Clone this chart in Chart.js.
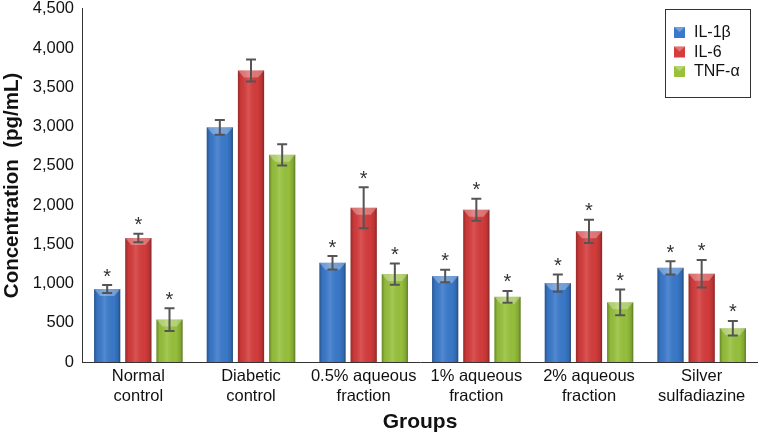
<!DOCTYPE html>
<html>
<head>
<meta charset="utf-8">
<script src="https://cdn.jsdelivr.net/npm/chart.js@4.4.1/dist/chart.umd.min.js"></script>
<style>
  html, body { margin: 0; padding: 0; background: #fff; }
  #wrap { width: 758px; height: 435px; }
</style>
</head>
<body>
<div id="wrap"><canvas id="chart" width="758" height="435"></canvas></div>
<script>
// groups on the x axis
var groups = [
  ['Normal', 'control'],
  ['Diabetic', 'control'],
  ['0.5% aqueous', 'fraction'],
  ['1% aqueous', 'fraction'],
  ['2% aqueous', 'fraction'],
  ['Silver', 'sulfadiazine']
];

// means and error bars (pg/mL)
var il1b = [930, 2990, 1265, 1095, 1005, 1200];
var il1bErr = [50, 95, 85, 80, 110, 85];
var il6 = [1580, 3715, 1965, 1940, 1665, 1125];
var il6Err = [55, 140, 260, 140, 148, 175];
var tnfa = [540, 2640, 1120, 830, 760, 430];
var tnfaErr = [145, 135, 135, 75, 165, 93];

// asterisk shown above the bar (not for diabetic control)
var starred = [true, false, true, true, true, true];

var yMin = 0, yMax = 4500, yStep = 500;

var font = "'Liberation Sans', Arial, sans-serif";

// shading, error bars, asterisks and the boxed legend
var decorPlugin = {
  id: 'decor',
  afterDatasetsDraw: function(chart) {
    var ctx = chart.ctx;
    var yScale = chart.scales.y;
    ctx.save();
    chart.data.datasets.forEach(function(ds, di) {
      var meta = chart.getDatasetMeta(di);
      meta.data.forEach(function(bar, i) {
        var left = bar.x - bar.width / 2;
        var right = bar.x + bar.width / 2;
        var top = bar.y, base = bar.base;
        // horizontal shading
        var g = ctx.createLinearGradient(left, 0, right, 0);
        g.addColorStop(0, 'rgba(0,0,0,0.30)');
        g.addColorStop(0.12, 'rgba(0,0,0,0.05)');
        g.addColorStop(0.4, 'rgba(255,255,255,0.12)');
        g.addColorStop(0.75, 'rgba(0,0,0,0.02)');
        g.addColorStop(0.92, 'rgba(0,0,0,0.15)');
        g.addColorStop(1, 'rgba(0,0,0,0.40)');
        ctx.fillStyle = g;
        ctx.fillRect(left, top, bar.width, base - top);
        // top bevel
        ctx.fillStyle = 'rgba(255,255,255,0.30)';
        ctx.beginPath();
        ctx.moveTo(left, top);
        ctx.lineTo(right, top);
        ctx.lineTo(right - 6, top + 7);
        ctx.lineTo(left + 6, top + 7);
        ctx.closePath();
        ctx.fill();

        // error bar
        var v = ds.data[i], e = ds.errors[i];
        var yHi = yScale.getPixelForValue(v + e);
        var yLo = yScale.getPixelForValue(v - e);
        ctx.strokeStyle = '#555';
        ctx.lineWidth = 2;
        ctx.beginPath();
        ctx.moveTo(bar.x, yHi); ctx.lineTo(bar.x, yLo);
        ctx.moveTo(bar.x - 5, yHi); ctx.lineTo(bar.x + 5, yHi);
        ctx.moveTo(bar.x - 5, yLo); ctx.lineTo(bar.x + 5, yLo);
        ctx.stroke();

        if (starred[i]) {
          ctx.fillStyle = '#333';
          ctx.font = '20px ' + font;
          ctx.textAlign = 'center';
          ctx.textBaseline = 'middle';
          ctx.fillText('*', bar.x, yHi - 8);
        }
      });
    });

    // legend box
    var bx = 665, by = 9, bw = 85, bh = 88;
    ctx.fillStyle = '#fff';
    ctx.fillRect(bx, by, bw, bh);
    ctx.strokeStyle = '#333';
    ctx.lineWidth = 1;
    ctx.strokeRect(bx + 0.5, by + 0.5, bw, bh);
    chart.data.datasets.forEach(function(ds, di) {
      var cy = 32 + di * 19.5;
      ctx.fillStyle = ds.backgroundColor;
      ctx.fillRect(674, cy - 5, 11, 11);
      ctx.fillStyle = 'rgba(255,255,255,0.3)';
      ctx.beginPath();
      ctx.moveTo(674, cy - 5); ctx.lineTo(685, cy - 5); ctx.lineTo(679.5, cy);
      ctx.closePath(); ctx.fill();
      ctx.fillStyle = '#111';
      ctx.font = '16px ' + font;
      ctx.textAlign = 'left';
      ctx.textBaseline = 'middle';
      ctx.fillText(ds.label, 694, cy + 1);
    });
    ctx.restore();
  }
};

var ctx = document.getElementById('chart').getContext('2d');
var myChart = new Chart(ctx, {
  type: 'bar',
  data: {
    labels: groups,
    datasets: [
      { label: 'IL-1\u03B2', data: il1b, errors: il1bErr, backgroundColor: '#3a7acc', borderWidth: 0 },
      { label: 'IL-6', data: il6, errors: il6Err, backgroundColor: '#d63c3c', borderWidth: 0 },
      { label: 'TNF-\u03B1', data: tnfa, errors: tnfaErr, backgroundColor: '#98c23c', borderWidth: 0 }
    ]
  },
  options: {
    responsive: false,
    animation: false,
    devicePixelRatio: 1,
    layout: { padding: { top: 0, right: 0, bottom: 0, left: 0 } },
    categoryPercentage: 0.83,
    barPercentage: 0.84,
    plugins: {
      legend: { display: false },
      tooltip: { enabled: false }
    },
    scales: {
      x: {
        grid: { display: false, drawTicks: false },
        border: { display: true, color: '#333', width: 1 },
        ticks: {
          color: '#111',
          font: { family: font, size: 16.5, lineHeight: 1.2 },
          padding: 5,
          maxRotation: 0,
          autoSkip: false
        },
        title: {
          display: true,
          text: 'Groups',
          color: '#111',
          font: { family: font, size: 21, weight: 'bold' },
          padding: { top: 3, bottom: 0 }
        },
        afterFit: function(scale) { scale.height = 73; }
      },
      y: {
        min: yMin,
        max: yMax,
        grid: { display: false, drawTicks: false },
        border: { display: true, color: '#333', width: 1 },
        ticks: {
          stepSize: yStep,
          color: '#111',
          font: { family: font, size: 16.5, lineHeight: 0.1 },
          padding: 8,
          callback: function(v) { return v.toLocaleString('en-US'); }
        },
        title: {
          display: true,
          text: 'Concentration  (pg/mL)',
          color: '#111',
          font: { family: font, size: 20.5, weight: 'bold' },
          padding: { top: 0, bottom: 0 }
        },
        afterFit: function(scale) { scale.width = 82; }
      }
    }
  },
  plugins: [decorPlugin]
});
</script>
</body>
</html>
